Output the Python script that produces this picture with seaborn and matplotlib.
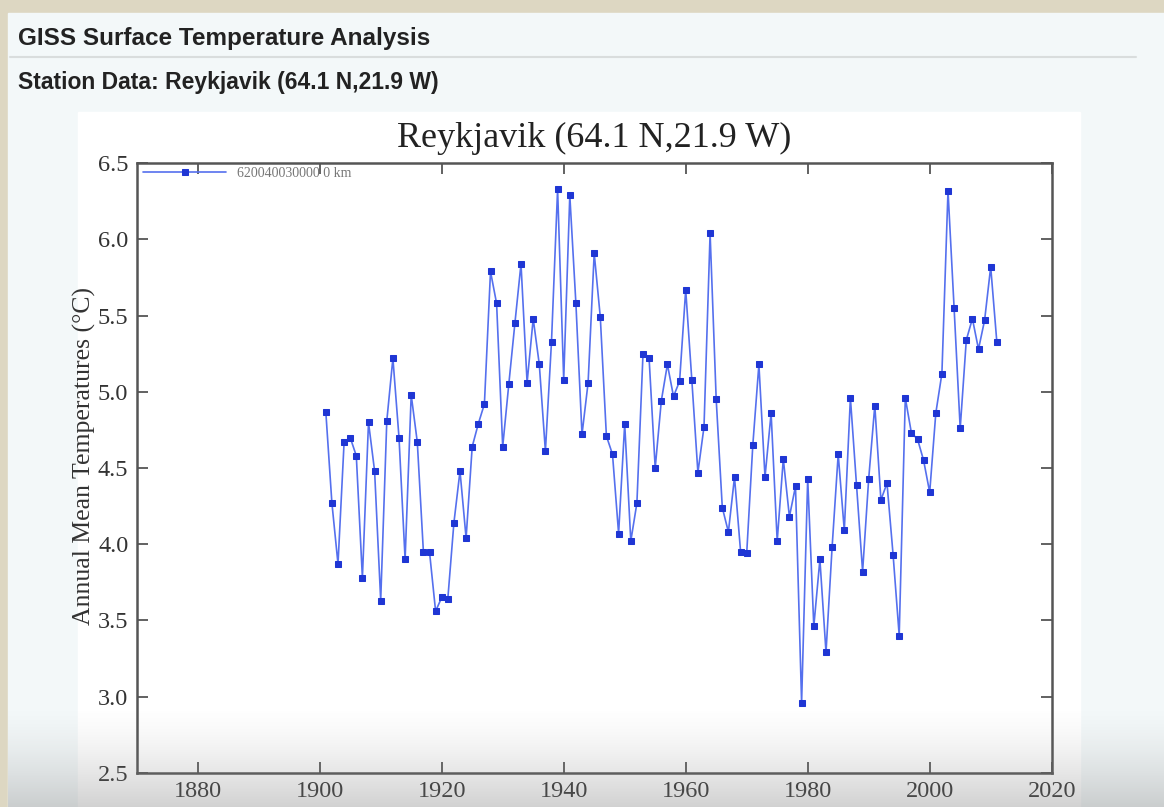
import numpy as np
import pandas as pd
import seaborn as sns
import matplotlib.pyplot as plt
from matplotlib.patches import Rectangle

# Reykjavik annual mean temperature (deg C)
years = list(range(1901, 2012))
temps = [
    4.87, 4.27, 3.87, 4.67, 4.70, 4.58, 3.78, 4.80, 4.48, 3.63,
    4.81, 5.22, 4.70, 3.90, 4.98, 4.67, 3.95, 3.95, 3.56, 3.65,
    3.64, 4.14, 4.48, 4.04, 4.64, 4.79, 4.92, 5.79, 5.58, 4.64,
    5.05, 5.45, 5.84, 5.06, 5.48, 5.18, 4.61, 5.33, 6.33, 5.08,
    6.29, 5.58, 4.72, 5.06, 5.91, 5.49, 4.71, 4.59, 4.07, 4.79,
    4.02, 4.27, 5.25, 5.22, 4.50, 4.94, 5.18, 4.97, 5.07, 5.67,
    5.08, 4.47, 4.77, 6.04, 4.95, 4.24, 4.08, 4.44, 3.95, 3.94,
    4.65, 5.18, 4.44, 4.86, 4.02, 4.56, 4.18, 4.38, 2.96, 4.43,
    3.46, 3.90, 3.29, 3.98, 4.59, 4.09, 4.96, 4.39, 3.82, 4.43,
    4.91, 4.29, 4.40, 3.93, 3.40, 4.96, 4.73, 4.69, 4.55, 4.34,
    4.86, 5.12, 6.32, 5.55, 4.76, 5.34, 5.48, 5.28, 5.47, 5.82,
    5.33,
]
station_label = "620040030000 0 km"
x_ticks = [1880, 1900, 1920, 1940, 1960, 1980, 2000, 2020]
y_ticks = [2.5, 3.0, 3.5, 4.0, 4.5, 5.0, 5.5, 6.0, 6.5]

W, H = 1164, 807


def draw_page(fig):
    """Beige screen border, page background and the two page headings."""
    bg = fig.add_axes([0, 0, 1, 1], zorder=-10)
    bg.set_xlim(0, W)
    bg.set_ylim(H, 0)
    bg.axis('off')
    bg.add_patch(Rectangle((8, 13), W - 8, H - 13, color='#f3f8f9'))
    bg.add_patch(Rectangle((78, 112), 1002, H - 112, color='white'))
    bg.plot([10, 1136], [57, 57], color='#d9dddd', lw=1.5)
    bg.text(18, 38, 'GISS Surface Temperature Analysis', family='Liberation Sans',
            weight='bold', fontsize=17.5, color='#222222', va='center')
    bg.text(18, 82, 'Station Data: Reykjavik (64.1 N,21.9 W)', family='Liberation Sans',
            weight='bold', fontsize=16.5, color='#222222', va='center')


def draw_shade(fig):
    """Greyish fade at the bottom of the screenshot."""
    ov = fig.add_axes([0, 0, 1, 1], zorder=10)
    ov.set_xlim(0, W)
    ov.set_ylim(H, 0)
    ov.axis('off')
    n = 100
    grad = np.zeros((n, 1, 4))
    grad[..., :3] = 0.5
    grad[:, 0, 3] = np.linspace(0, 0.5, n) ** 1.5
    ov.imshow(grad, extent=(8, W, H, 705), aspect='auto', interpolation='bilinear')


def plot_station(fig):
    df = pd.DataFrame({'year': years, 'temp': temps})
    ax = fig.add_axes([136.7 / W, 1 - 772.7 / H, 915 / W, 609.4 / H])
    sns.lineplot(data=df, x='year', y='temp', ax=ax, color='#5570ee', lw=1.2,
                 marker='s', markersize=4.2, markerfacecolor='#1f36d4',
                 markeredgecolor='#1f36d4', label=station_label)
    ax.set_xlim(1870, 2020)
    ax.set_ylim(2.5, 6.5)
    ax.set_xticks(x_ticks)
    ax.set_yticks(y_ticks)
    ax.set_yticklabels([f'{v:.1f}' for v in y_ticks])
    ax.tick_params(direction='in', top=True, right=True, length=8, width=1.3,
                   color='#555555', labelsize=17.5, labelcolor='#333333', pad=6)
    ax.tick_params(axis='x', labeltop=False, pad=6)
    for lab in ax.get_xticklabels() + ax.get_yticklabels():
        lab.set_family('Liberation Serif')
    for sp in ax.spines.values():
        sp.set_visible(True)
        sp.set_color('#555555')
        sp.set_linewidth(1.8)
    ax.set_xlabel('')
    ax.set_ylabel('Annual Mean Temperatures (°C)', family='Liberation Serif',
                  fontsize=18.5, color='#333333')
    ax.yaxis.set_label_coords(-0.0445, 0.52)
    ax.set_title('Reykjavik (64.1 N,21.9 W)', family='Liberation Serif',
                 fontsize=26, color='#222222', pad=12)
    leg = ax.legend(loc='upper left', bbox_to_anchor=(0.0069, 0.994), frameon=False,
                    borderaxespad=0, borderpad=0, handlelength=6.0, handletextpad=0.8,
                    prop={'family': 'Liberation Serif', 'size': 10})
    for t in leg.get_texts():
        t.set_color('#777777')
    return ax


if __name__ == "__main__":
    sns.set_style('ticks')
    fig = plt.figure(figsize=(W / 100, H / 100), dpi=100, facecolor='#ddd7c2')
    draw_page(fig)
    plot_station(fig)
    draw_shade(fig)
    fig.savefig('out.png', dpi=100, facecolor=fig.get_facecolor())
